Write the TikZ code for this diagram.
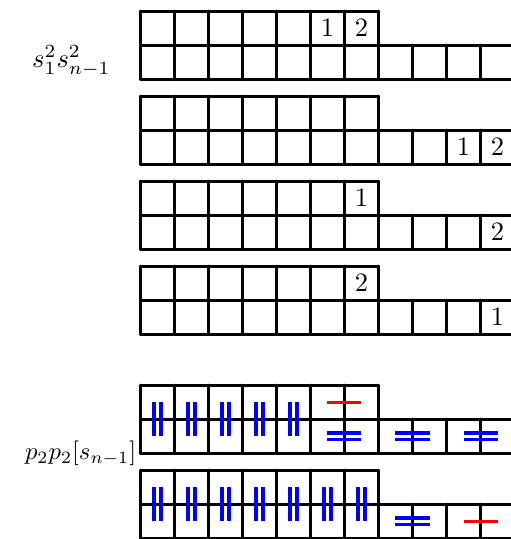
\documentclass[tikz,border=0pt]{standalone}
\usepackage{amsmath,amssymb}
\usepackage{tikz}
\usetikzlibrary{calc}

\tikzset{
	cell/.style={very thick, line cap=round, line join=round},
	bluebar/.style={blue, line width=1.25pt},
	redbar/.style={red, line width=1.25pt}
}

\begin{document}
\begin{tikzpicture}[x=0.45cm, y=0.45cm]
			\useasboundingbox (-4.13,-0.02) rectangle (10.89,15.83);
			\foreach \m in {14.5,12,9.5,7,3.5,1} {
				\draw[cell] (0,\m-1) -- (11,\m-1) (0,\m) -- (11,\m) (0,\m+1) -- (7,\m+1);
				\foreach \i in {0,...,7} \draw[cell] (\i,\m-1) -- (\i,\m+1);
				\foreach \i in {8,...,11} \draw[cell] (\i,\m-1) -- (\i,\m);
			}
			\node (lab1) at (-2.03,14.03) {$s_1^2s_{n-1}^2$};
			\node[scale=0.93] (lab2) at (-1.76,2.5) {$p_2p_2[s_{n-1}]$};
			\node (a1) at (5.5,15) {$1$};
			\node (a2) at (6.5,15) {$2$};
			\node (b1) at (9.5,11.5) {$1$};
			\node (b2) at (10.5,11.5) {$2$};
			\node (c1) at (6.5,10) {$1$};
			\node (c2) at (10.5,9) {$2$};
			\node (e2) at (6.5,7.5) {$2$};
			\node (e1) at (10.5,6.5) {$1$};
			\foreach \i in {0,...,4} {
				\draw[bluebar] (\i+0.4,3) -- (\i+0.4,4);
				\draw[bluebar] (\i+0.6,3) -- (\i+0.6,4);
			}
			\foreach \j in {6,8,10} {
				\draw[bluebar] (\j-0.5,2.9) -- (\j+0.5,2.9);
				\draw[bluebar] (\j-0.5,3.1) -- (\j+0.5,3.1);
			}
			\draw[redbar] (5.5,4) -- (6.5,4);
			\foreach \i in {0,...,6} {
				\draw[bluebar] (\i+0.4,0.5) -- (\i+0.4,1.5);
				\draw[bluebar] (\i+0.6,0.5) -- (\i+0.6,1.5);
			}
			\draw[bluebar] (7.5,0.4) -- (8.5,0.4);
			\draw[bluebar] (7.5,0.6) -- (8.5,0.6);
			\draw[redbar] (9.5,0.5) -- (10.5,0.5);
		\end{tikzpicture}
\end{document}
